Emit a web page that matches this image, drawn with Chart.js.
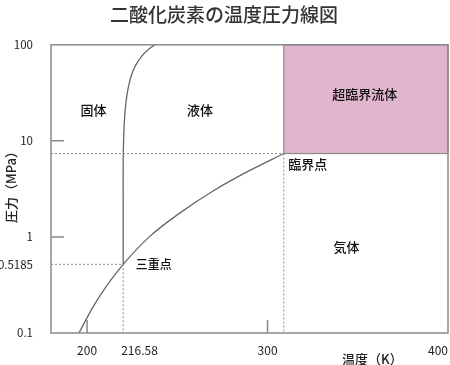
<!DOCTYPE html>
<html>
<head>
<meta charset="utf-8">
<script src="https://cdn.jsdelivr.net/npm/chart.js@4"></script>
<style>
  body { margin: 0; background: #fff; }
  #wrap { width: 450px; height: 365px; }
</style>
</head>
<body>
<div id="wrap"><canvas id="phaseChart" width="450" height="365"></canvas></div>
<script>
// axis ranges
const tempMin = 180, tempMax = 400;
const pressMin = 0.1, pressMax = 100;

// triple point / critical point, as drawn on the axis
const tripleT = 220, tripleP = 0.5185;
const critT = 309, critP = 7.38;

// tick labels
const xTickValues = [200, tripleT, 300, 400];
const xTickLabels = ["200", "216.58", "300", "400"];
const xTickAlign = ["center", "left", "center", "right"];
const xTickMarks = [200, 300];
const yTickValues = [0.1, 0.5185, 1, 10, 100];
const yTickLabels = ["0.1", "0.5185", "1", "10", "100"];
const yTickMarks = [1, 10];

// melting curve (solid / liquid)
const meltT = [220, 220, 220.01, 220.34, 221.0, 222.1, 223.8, 225.7, 227.7, 230.4, 233.8, 237.6];
const meltP = [0.5185, 2.43, 6.34, 11.5, 20.0, 30.1, 43.2, 55.0, 64.9, 76.8, 88.7, 100];

// sublimation + vapour pressure curve
const vapT = [195.5, 203.3, 211.6, 220, 234.9, 251.5, 269.8, 288.6, 309];
const vapP = [0.1, 0.187, 0.324, 0.5185, 1.02, 1.78, 3.01, 4.75, 7.38];

// region labels
const regionNames = ["固体", "液体", "超臨界流体", "臨界点", "三重点", "気体"];
const regionT = [203.5, 262.6, 353.8, 311.5, 227, 343.8];
const regionP = [20.9, 20.9, 30.4, 5.7, 0.5185, 0.78];
const regionAlign = ["center", "center", "center", "left", "left", "center"];
const regionSize = [13, 13, 13, 13, 12, 13];

const jpFont = '"Noto Sans CJK JP", "Noto Sans", sans-serif';
const grey = "#8a8a8a";

function pts(xs, ys) {
    return xs.map((x, i) => ({ x: x, y: ys[i] }));
}

const dashed = {
    borderColor: grey,
    borderWidth: 1,
    borderDash: [2, 2],
    pointRadius: 0,
    showLine: true,
    fill: false
};

const phasePlugin = {
    id: "phase",
    beforeDatasetsDraw(chart) {
        const { ctx, scales: { x, y } } = chart;
        const x0 = x.getPixelForValue(critT), x1 = x.getPixelForValue(tempMax);
        const y0 = y.getPixelForValue(pressMax), y1 = y.getPixelForValue(critP);
        ctx.save();
        ctx.fillStyle = "#e1b5cd";
        ctx.fillRect(x0, y0, x1 - x0, y1 - y0);
        ctx.strokeStyle = grey;
        ctx.lineWidth = 1.2;
        ctx.strokeRect(x0, y0, x1 - x0, y1 - y0);
        ctx.restore();
    },
    afterDatasetsDraw(chart) {
        const { ctx, chartArea: a, scales: { x, y } } = chart;
        ctx.save();
        // frame
        ctx.strokeStyle = grey;
        ctx.lineWidth = 1.5;
        ctx.strokeRect(a.left, a.top, a.right - a.left, a.bottom - a.top);
        // inner tick marks
        ctx.beginPath();
        yTickMarks.forEach(v => {
            const py = y.getPixelForValue(v);
            ctx.moveTo(a.left, py);
            ctx.lineTo(a.left + 13, py);
        });
        xTickMarks.forEach(v => {
            const px = x.getPixelForValue(v);
            ctx.moveTo(px, a.bottom);
            ctx.lineTo(px, a.bottom - 13);
        });
        ctx.stroke();

        // x tick labels
        ctx.fillStyle = "#222";
        ctx.textBaseline = "middle";
        ctx.font = "12px " + jpFont;
        xTickValues.forEach((v, i) => {
            ctx.textAlign = xTickAlign[i];
            let px = x.getPixelForValue(v);
            if (xTickAlign[i] == "left") px -= 2;
            ctx.fillText(xTickLabels[i], px, a.bottom + 17);
        });

        // region labels
        ctx.fillStyle = "#111";
        regionNames.forEach((name, i) => {
            ctx.font = "500 " + regionSize[i] + "px " + jpFont;
            ctx.textAlign = regionAlign[i];
            ctx.fillText(name, x.getPixelForValue(regionT[i]), y.getPixelForValue(regionP[i]));
        });

        // axis titles
        ctx.fillStyle = "#222";
        ctx.font = "500 13px " + jpFont;
        ctx.textAlign = "left";
        ctx.fillText("温度（K）", 342, 359);
        ctx.translate(11, 184);
        ctx.rotate(-Math.PI / 2);
        ctx.textAlign = "center";
        ctx.fillText("圧力（MPa）", 0, 0);
        ctx.restore();
    }
};

new Chart(document.getElementById("phaseChart"), {
    type: "scatter",
    data: {
        datasets: [
            Object.assign({ data: pts([tempMin, critT], [critP, critP]) }, dashed),
            Object.assign({ data: pts([critT, critT], [critP, pressMin]) }, dashed),
            Object.assign({ data: pts([tempMin, tripleT], [tripleP, tripleP]) }, dashed),
            Object.assign({ data: pts([tripleT, tripleT], [tripleP, pressMin]) }, dashed),
            {
                data: pts(meltT, meltP),
                showLine: true,
                borderColor: "#666",
                borderWidth: 1.3,
                pointRadius: 0,
                tension: 0.3
            },
            {
                data: pts(vapT, vapP),
                showLine: true,
                borderColor: "#666",
                borderWidth: 1.3,
                pointRadius: 0,
                cubicInterpolationMode: "monotone"
            }
        ]
    },
    options: {
        responsive: false,
        animation: false,
        layout: { padding: { right: 2 } },
        plugins: {
            legend: { display: false },
            tooltip: { enabled: false },
            title: {
                display: true,
                text: "二酸化炭素の温度圧力線図",
                color: "#333",
                font: { family: jpFont, size: 19, weight: "500" },
                padding: { top: 3, bottom: 19 }
            }
        },
        scales: {
            x: {
                type: "linear",
                min: tempMin,
                max: tempMax,
                grid: { display: false },
                border: { display: false },
                ticks: { display: false },
                afterFit(scale) { scale.height = 32; }
            },
            y: {
                type: "logarithmic",
                min: pressMin,
                max: pressMax,
                grid: { display: false },
                border: { display: false },
                afterBuildTicks(scale) {
                    scale.ticks = yTickValues.map(v => ({ value: v }));
                },
                afterFit(scale) { scale.width = 51; },
                ticks: {
                    color: "#222",
                    padding: 10,
                    font: { family: jpFont, size: 11.5 },
                    callback: (v, i) => yTickLabels[i]
                }
            }
        }
    },
    plugins: [phasePlugin]
});
</script>
</body>
</html>
